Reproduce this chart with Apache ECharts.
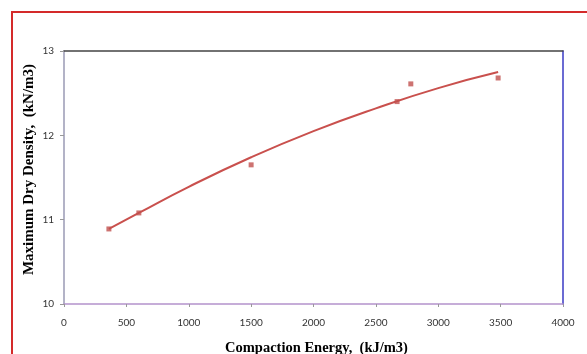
<!DOCTYPE html>
<html><head><meta charset="utf-8">
<script src="https://cdn.jsdelivr.net/npm/echarts@6/dist/echarts.min.js"></script>
<style>html,body{margin:0;padding:0;background:#fff;}#c{width:587px;height:354px;}</style>
</head><body><div id="c"></div>
<script>
// Measured points
const energy = [360, 600, 1500, 2670, 2780, 3480];
const density = [10.89, 11.08, 11.65, 12.40, 12.61, 12.68];
// Trend line
const trendEnergy = [360, 600, 1000, 1500, 2000, 2500, 3000, 3480];
const trendDensity = [10.89, 11.08, 11.39, 11.74, 12.05, 12.32, 12.56, 12.75];
const xTicks = [0, 500, 1000, 1500, 2000, 2500, 3000, 3500, 4000];
const yTicks = [10, 11, 12, 13];
const xTitle = 'Compaction Energy,  (kJ/m3)';
const yTitle = 'Maximum Dry Density,  (kN/m3)';

const chart = echarts.init(document.getElementById('c'), null, {renderer: 'canvas'});
const lbl = {fontFamily: 'Lato, "Liberation Sans", sans-serif', fontSize: 10, color: '#333'};
const pts = energy.map((e, i) => [e, density[i]]);
const tr = trendEnergy.map((e, i) => [e, trendDensity[i]]);
chart.setOption({
  animation: false,
  backgroundColor: '#fff',
  graphic: [{
    type: 'rect', shape: {x: 12, y: 12, width: 600, height: 400},
    style: {fill: 'none', stroke: '#d42a2a', lineWidth: 2}, silent: true
  }],
  grid: {left: 64, top: 51, right: 24, bottom: 50, show: false, containLabel: false, outerBoundsMode: 'none'},
  xAxis: [{
    type: 'value', position: 'bottom', min: xTicks[0], max: xTicks[xTicks.length - 1], interval: 500,
    axisLine: {show: true, onZero: false, lineStyle: {color: '#b493cc', width: 1.5}},
    axisTick: {show: true, length: 3, lineStyle: {color: '#999'}},
    axisLabel: Object.assign({margin: 14, formatter: v => String(v)}, lbl),
    splitLine: {show: false},
    name: xTitle, nameLocation: 'middle', nameGap: 37,
    nameTextStyle: {fontFamily: '"Liberation Serif", "Times New Roman", serif', fontWeight: 'bold', fontSize: 14.5, color: '#000', padding: [0, 0, 0, 6]}
  }, {
    type: 'value', position: 'top', min: 0, max: 4000,
    axisLine: {show: true, onZero: false, lineStyle: {color: '#444', width: 1.5}},
    axisTick: {show: false}, axisLabel: {show: false}, splitLine: {show: false}
  }],
  yAxis: [{
    type: 'value', position: 'left', min: yTicks[0], max: yTicks[yTicks.length - 1], interval: 1,
    axisLine: {show: true, onZero: false, lineStyle: {color: '#9a9ab4', width: 1.5}},
    axisTick: {show: true, length: 4, lineStyle: {color: '#999'}},
    axisLabel: Object.assign({margin: 10, formatter: v => String(v)}, lbl),
    splitLine: {show: false},
    name: yTitle, nameLocation: 'middle', nameGap: 27, nameRotate: 90, nameMoveOverlap: false,
    nameTextStyle: {fontFamily: '"Liberation Serif", "Times New Roman", serif', fontWeight: 'bold', fontSize: 15, color: '#000', padding: [0, 0, 0, 16]}
  }, {
    type: 'value', position: 'right', min: 10, max: 13,
    axisLine: {show: true, onZero: false, lineStyle: {color: '#3a3ac4', width: 1.5}},
    axisTick: {show: false}, axisLabel: {show: false}, splitLine: {show: false}
  }],
  series: [{
    type: 'line', data: tr, smooth: true, showSymbol: false,
    lineStyle: {color: '#c9504d', width: 2}, z: 2
  }, {
    type: 'scatter', data: pts, symbol: 'rect', symbolSize: 5,
    itemStyle: {color: '#c0504d'}, z: 3
  }]
});
</script></body></html>
